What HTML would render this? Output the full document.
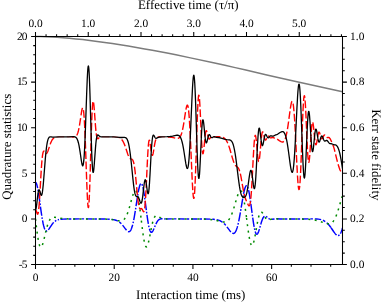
<!DOCTYPE html>
<html><head><meta charset="utf-8"><title>Kerr quadrature statistics</title><style>
html,body{margin:0;padding:0;background:#fff}
body{width:382px;height:303px;overflow:hidden;font-family:"Liberation Serif",serif}
svg{display:block;will-change:transform;filter:blur(0.3px);text-rendering:geometricPrecision}
</style></head><body>
<svg width="382" height="303" viewBox="0 0 382 303">
<defs><clipPath id="cp"><rect x="35.5" y="30" width="307" height="240"/></clipPath></defs>
<rect width="382" height="303" fill="#fff"/>
<g clip-path="url(#cp)" fill="none" stroke-linejoin="round" stroke-linecap="butt">
<path d="M35.50,36.50L40.62,36.55L45.84,36.69L51.31,36.92L56.99,37.26L63.03,37.70L69.33,38.24L75.88,38.88L82.73,39.62L89.85,40.46L97.17,41.40L104.69,42.43L112.37,43.54L120.19,44.75L128.23,46.04L136.47,47.44L144.71,48.89L152.33,50.29L160.42,51.81L168.35,53.35L175.92,54.86L190.46,57.87L213.44,62.80L224.95,65.32L235.19,67.63L244.76,69.85L266.86,75.05L280.12,78.08L294.70,81.29L324.28,87.67L342.50,91.75" stroke="#7c7c7c" stroke-width="1.5"/>
<path d="M35.50,182.42L35.76,182.50L36.01,182.76L36.27,183.18L36.52,183.76L36.78,184.49L37.09,185.58L37.64,188.05M37.94,189.62L38.22,191.20M38.47,192.78L39.08,196.83L39.79,201.88M40.00,203.47L40.22,205.05M40.44,206.64L41.13,211.60L41.74,215.74M41.99,217.32L42.26,218.90M42.53,220.48L43.13,223.49L43.69,225.90L44.25,227.82L44.56,228.67L44.85,229.36M45.73,230.69L46.09,230.96L46.45,231.07L46.81,231.06L47.19,230.92M48.37,229.85L49.21,228.68L51.06,225.81L51.93,224.54L52.85,223.34L53.71,222.38M54.92,221.33L55.56,220.89L56.28,220.49M57.76,219.89L58.99,219.57M60.43,219.34L61.60,219.22L62.98,219.13L66.82,219.01M68.72,218.97L71.32,218.94M73.22,218.92L79.62,218.89M81.52,218.89L84.12,218.89M86.02,218.89L92.42,218.91M94.32,218.93L96.92,218.95M98.82,218.96L105.22,219.06M107.11,219.11L109.71,219.23M111.60,219.38L113.44,219.64L115.03,219.98L115.74,220.19L116.46,220.44L117.12,220.72L117.75,221.03M119.36,222.04L120.35,222.84L121.30,223.75M122.57,225.17L123.52,226.37L125.57,229.08L126.51,230.21M127.95,231.44L127.97,231.45M128.02,231.48L128.38,231.62L128.69,231.68L129.00,231.67L129.30,231.60L129.61,231.44L129.92,231.21L130.23,230.89L130.48,230.56L130.79,230.07L131.04,229.58L131.61,228.26L132.17,226.57L132.69,224.70M133.06,223.15L133.40,221.58M133.72,220.02L134.47,215.94L135.29,210.95M135.54,209.37L135.78,207.79M136.02,206.21L137.41,197.11M137.67,195.53L137.93,193.96M138.21,192.38L138.93,188.73L139.54,186.25L139.85,185.27L140.15,184.49L140.41,183.99L140.71,183.60M141.90,184.16L142.20,184.84L142.48,185.65M142.89,187.20L143.27,188.96L143.63,190.86L144.04,193.32L144.49,196.26M144.71,197.84L144.93,199.43M145.14,201.01L146.33,210.14M146.53,211.72L146.74,213.31M146.96,214.89L147.68,219.88L148.35,223.99M148.65,225.56L148.98,227.12M149.37,228.68L149.88,230.32L150.13,230.96L150.39,231.47L150.64,231.86L150.90,232.14L151.16,232.30L151.46,232.36L151.72,232.29L152.03,232.09L152.28,231.83L152.59,231.43L152.90,230.93L153.25,230.25L154.03,228.52M154.64,227.04L155.25,225.56M155.89,224.10L156.63,222.59L157.35,221.38L157.71,220.88L158.06,220.44L158.42,220.07L158.78,219.75L159.14,219.50L159.55,219.26L159.96,219.09L160.37,218.97L161.29,218.82L162.51,218.81M164.11,218.87L164.97,218.91M165.53,218.92L171.93,218.90M173.83,218.90L176.43,218.89M178.33,218.89L184.73,218.90M186.63,218.91L189.23,218.92M191.13,218.93L197.53,218.97M199.43,218.98L202.03,218.99M203.93,219.01L210.33,219.11M212.23,219.20L213.59,219.30L214.82,219.42M216.69,219.72L217.53,219.91L218.35,220.14L219.12,220.40L219.83,220.69L220.55,221.03L221.21,221.39L221.88,221.80L222.51,222.25M223.97,223.47L224.85,224.35L225.75,225.36M226.94,226.84L229.61,230.42L230.27,231.26L230.84,231.91M232.29,233.13L232.63,233.29L232.99,233.40M233.04,233.41L233.34,233.44L233.65,233.41L233.96,233.31L234.26,233.15L234.57,232.91L234.83,232.66L235.13,232.28L235.39,231.91L235.95,230.87L236.52,229.54L237.08,227.89L237.60,226.11M237.99,224.56L238.36,223.00M238.70,221.44L239.48,217.49L240.39,212.39M240.66,210.82L240.92,209.24M241.19,207.66L242.70,198.59M242.98,197.01L243.28,195.44M243.58,193.87L244.04,191.70L244.45,189.99L244.86,188.53L245.27,187.33L245.68,186.44L246.03,185.93L246.24,185.75L246.39,185.67L246.60,185.65L246.77,185.69M247.67,186.98L247.93,187.68L248.18,188.50M248.58,190.05L248.95,191.75L249.36,193.92L250.19,199.10M250.42,200.68L250.64,202.27M250.86,203.85L252.07,212.97M252.28,214.56L252.50,216.15M252.71,217.73L253.46,222.79L254.14,226.82M254.45,228.39L254.79,229.95M255.21,231.50L255.45,232.26L255.71,232.92L255.91,233.35L256.17,233.76L256.37,234.00L256.63,234.17L256.88,234.21L257.14,234.13L257.40,233.93L257.65,233.62L257.91,233.20L258.16,232.69L258.73,231.27L259.41,229.13M259.86,227.59L260.29,226.05M260.72,224.51L261.28,222.58L261.80,220.98L262.26,219.70L262.72,218.60L263.18,217.70L263.59,217.08L264.05,216.58L264.48,216.29M266.01,216.42L266.56,216.76L267.31,217.36M268.55,218.36L269.27,218.81L269.98,219.13M270.04,219.15L270.09,219.17M271.97,219.34L274.53,218.94M276.43,218.80L280.32,218.91L282.83,218.92M284.73,218.91L287.33,218.93M289.23,218.93L295.63,218.95M297.53,218.95L300.13,218.95M302.03,218.94L308.43,218.89M310.33,218.87L312.93,218.87M314.83,218.90L316.76,218.98L318.40,219.13L319.83,219.35L321.17,219.66M322.96,220.27L324.13,220.83L325.24,221.51M326.74,222.68L327.71,223.60L328.73,224.71L329.76,225.97L330.90,227.52M331.04,227.72L333.60,231.49L334.62,232.91L335.18,233.62L335.69,234.20L336.15,234.65L336.59,235.01M338.06,235.57L338.41,235.52L338.76,235.40L339.12,235.18L339.47,234.89M340.41,233.60L340.96,232.49L341.48,231.23L341.99,229.74L342.50,228.02" stroke="#0000ff" stroke-width="1.45"/>
<path d="M35.50,218.90L35.73,220.89M36.24,225.26L36.48,227.24M37.02,231.61L37.29,233.59M37.93,237.94L38.26,239.92M39.18,244.22L39.49,245.26L39.82,246.11M42.38,245.03L43.00,243.13M44.11,238.87L44.57,236.93M45.56,232.64L46.03,230.70M47.06,226.74L47.63,224.82M49.23,220.73L49.73,219.83L50.27,219.02M54.05,217.19L54.90,217.28L56.02,217.50M60.34,218.36L62.32,218.59M66.71,218.84L68.71,218.88M73.11,218.92L75.11,218.92M79.51,218.91L81.51,218.91M85.91,218.89L87.91,218.89M92.31,218.88L94.31,218.88M98.71,218.91L100.71,218.93M105.11,219.05L107.11,219.15M111.49,219.55L113.47,219.84M117.79,220.66L118.86,220.83L119.77,220.91M123.84,219.59L124.49,218.93L125.15,218.08M127.17,214.18L127.87,212.31M129.21,208.12L129.76,206.19M130.91,201.95L131.43,200.02M132.64,195.78L133.27,193.89M135.76,190.77L136.06,191.04L136.32,191.39L136.57,191.87L136.81,192.44M137.97,196.68L138.35,198.64M139.07,202.98L139.36,204.96M139.95,209.32L140.21,211.31M140.75,215.67L140.98,217.56M141.35,220.69L141.59,222.68M142.12,227.05L142.37,229.03M142.94,233.39L143.22,235.37M143.91,239.72L144.29,241.68M145.47,245.92L145.78,246.49L145.94,246.68L146.14,246.84L146.29,246.90L146.50,246.89L146.70,246.79L146.87,246.63M148.41,242.53L148.87,240.59M149.76,236.28L150.13,234.31M150.96,229.99L151.35,228.03M152.29,223.73L152.78,221.79M154.25,217.65L154.53,217.14L154.84,216.68L155.15,216.32L155.43,216.06M159.38,217.10L160.32,217.67L161.13,218.07M165.43,218.87L167.43,218.90M171.83,218.92L173.83,218.91M178.23,218.90L180.23,218.89M184.63,218.88L186.63,218.88M191.03,218.89L193.03,218.90M197.43,218.94L199.43,218.97M203.83,219.08L205.82,219.16M210.21,219.48L212.20,219.72M216.53,220.50L218.47,220.97M222.76,221.96L223.82,222.06L224.75,222.03M228.53,219.99L229.15,219.22L229.72,218.39M231.66,214.45L232.38,212.58M233.76,208.40L234.34,206.49M235.55,202.26L236.10,200.34M237.38,196.13L238.05,194.24M240.42,190.72L240.61,190.73L240.76,190.78L241.12,191.03L241.48,191.48L241.79,192.04M243.13,196.22L243.56,198.17M244.35,202.50L244.67,204.48M245.32,208.83L245.59,210.81M246.18,215.17L246.43,217.15M246.54,218.01L246.79,219.87M247.35,224.24L247.61,226.22M248.21,230.58L248.49,232.56M249.18,236.90L249.53,238.87M250.53,243.16L250.90,244.22L251.28,245.00M253.60,242.62L254.10,240.68M254.98,236.37L255.34,234.40M256.09,230.07L256.43,228.10M257.20,223.76L257.57,221.80M258.50,217.50L259.03,215.57M261.31,212.09L261.64,212.19L262.00,212.43L262.36,212.80L262.78,213.35M264.99,217.16L265.58,218.09L266.13,218.80M270.08,219.66L271.26,219.21L271.96,218.99M276.33,218.82L278.32,218.92M282.72,218.88L284.72,218.88M289.12,218.90L291.12,218.91M295.52,218.96L297.52,218.98M301.92,219.08L303.92,219.14M308.32,219.37L310.31,219.53M314.67,220.10L316.63,220.49M320.87,221.69L322.75,222.35M326.94,223.69L327.97,223.84L328.93,223.87M332.74,221.91L333.34,221.18L333.94,220.32M335.93,216.40L336.66,214.54M338.08,210.37L338.67,208.46M339.91,204.24L340.46,202.32M341.72,198.10L342.35,196.20" stroke="#008a00" stroke-width="1.5"/>
<path d="M35.76,209.92L35.96,210.23L36.22,210.81L37.14,213.56L37.34,213.98L37.50,214.16L37.65,214.21L37.75,214.15L37.85,214.02L37.96,213.81L38.21,212.92L38.42,211.76M38.75,209.18L39.08,205.54L39.38,201.51M39.56,198.91L40.00,191.52M40.17,188.63L40.60,180.94M40.75,178.35L41.21,170.66M41.38,168.07L41.69,163.67L41.97,160.39M42.22,157.80L42.46,155.79L42.66,154.39L42.92,153.03L43.18,152.07L43.43,151.48L43.59,151.27L43.74,151.16L43.89,151.13L44.05,151.18L44.20,151.28L44.39,151.48M46.05,153.44L46.25,153.47L46.40,153.45L46.71,153.27L47.07,152.85L47.42,152.22L47.78,151.42L48.19,150.34L49.34,146.85M50.16,144.38L50.65,143.06L51.11,141.96L51.57,140.99L52.03,140.17L52.49,139.48L53.00,138.86L53.51,138.36L54.11,137.93M72.09,136.97L73.32,137.01L74.19,136.96M76.61,135.47L76.95,134.92L77.26,134.31L77.57,133.58L77.87,132.71L78.44,130.72L78.99,128.20M79.46,125.64L79.97,122.47L80.62,118.03M80.99,115.45L81.46,112.41L81.86,110.14L82.22,108.68L82.38,108.26L82.55,107.95M83.44,110.07L83.60,111.30L83.81,113.21L84.17,117.74M84.34,120.33L84.75,128.02M84.87,130.62L85.19,138.31M85.29,140.91L85.58,148.60M85.67,151.20L85.94,158.90M86.02,161.50L86.28,169.19M86.37,171.79L86.64,179.49M86.74,182.08L87.04,189.78M87.15,192.38L87.52,200.07M87.69,202.66L87.95,205.79L88.11,206.92L88.26,207.54L88.36,207.65L88.42,207.62L88.57,207.16L88.72,206.15L88.83,205.10M89.03,202.51L89.23,198.93L89.42,194.82M89.53,192.22L89.81,184.53M89.89,181.93L90.13,174.23M90.21,171.63L90.43,163.94M90.50,161.34L90.72,153.64M90.79,151.04L91.01,143.34M91.08,140.75L91.31,133.05M91.40,130.45L91.66,122.75M91.75,120.16L92.08,112.46M92.21,109.87L92.51,105.23L92.66,103.55L92.84,102.19M93.60,102.61L93.94,105.54L94.34,110.27M94.53,112.86L95.08,120.55M95.27,123.14L95.63,127.64L95.93,130.81M96.22,133.39L96.50,135.30L96.81,136.86M96.86,137.06L97.06,137.75L97.27,138.22L97.52,138.57L97.63,138.65L97.78,138.71L98.04,138.68L98.29,138.54L99.37,137.56M119.02,137.64L119.66,137.92M121.68,139.53L122.14,140.10L122.55,140.69L123.01,141.45L123.42,142.21L123.83,143.06L124.29,144.12L125.15,146.36M125.99,148.82L127.56,153.57L128.08,154.96L128.54,156.08M129.90,158.28L130.33,158.64L130.84,158.90M130.94,158.93L131.66,159.15L132.07,159.35L132.43,159.66L132.78,160.16L133.09,160.79L133.40,161.64L133.71,162.75L134.01,164.12M134.45,166.68L134.93,170.19L135.41,174.32M135.67,176.91L136.40,184.58M136.63,187.16L137.36,194.83M137.63,197.42L138.16,201.86L138.41,203.62L138.66,205.05M139.29,207.56L139.49,208.02L139.64,208.29L139.80,208.48L140.00,208.64L140.15,208.69L140.36,208.71L141.02,208.57L141.28,208.56L141.54,208.64L141.79,208.83L142.00,209.06L142.25,209.44L143.17,211.22L143.38,211.51L143.53,211.65L143.63,211.69L143.74,211.68L143.89,211.57L144.04,211.33L144.20,210.89M144.69,208.34L145.07,204.94L145.41,200.67M145.58,198.08L146.02,190.39M146.15,187.80L146.35,183.76M146.40,182.68L146.52,180.11M146.64,177.51L146.99,169.82M147.11,167.22L147.48,159.53M147.61,156.93L148.07,149.24M148.26,146.65L148.44,144.55L148.65,142.71L148.80,141.67L149.01,140.73L149.16,140.36L149.26,140.27L149.36,140.29L149.47,140.42L149.57,140.65L149.75,141.28M150.19,143.84L151.21,151.47M151.67,154.03L151.92,154.89L152.13,155.28L152.23,155.36L152.38,155.36L152.49,155.27L152.64,155.02L152.90,154.29L153.15,153.23L153.46,151.64L153.81,149.51M154.22,146.95L154.69,144.23L155.10,142.17L155.51,140.54L155.88,139.44M157.42,137.41L157.96,137.17L158.68,136.96L159.34,136.83L160.06,136.78M168.04,136.97L169.99,137.12L171.68,137.33L173.26,137.62L175.22,138.06M177.79,138.38L178.43,138.24L179.00,137.97L179.51,137.56L180.02,136.96M180.22,136.66L180.68,135.83L181.09,134.90L181.50,133.76L181.91,132.39M182.54,129.87L183.19,126.62L183.93,122.30M184.33,119.73L185.49,112.12M185.93,109.55L186.31,107.63L186.62,106.42L186.93,105.57L187.08,105.31L187.18,105.19L187.34,105.13L187.49,105.20L187.64,105.41L187.75,105.63L188.00,106.49L188.26,107.85M188.61,110.42L188.92,113.60L189.28,118.10M189.45,120.69L189.90,128.38M190.03,130.97L190.40,138.66M190.52,141.26L190.86,148.95M190.97,151.55L191.29,159.24M191.40,161.84L191.73,169.54M191.84,172.13L192.19,179.82M192.32,182.42L192.76,190.11M192.95,192.70L193.27,196.20L193.48,197.59L193.63,198.19L193.73,198.37L193.78,198.40L193.89,198.32L193.94,198.21L194.09,197.60L194.24,196.60M194.50,194.02L194.71,191.05L194.97,186.33M195.09,183.73L195.41,176.04M195.51,173.44L195.77,165.75M195.86,163.15L196.11,155.45M196.19,152.85L196.42,145.16M196.50,142.56L196.74,134.86M196.82,132.26L197.07,124.57M197.16,121.97L197.44,114.27M197.55,111.68L197.91,103.99M198.06,101.39L198.34,97.78L198.49,96.44L198.65,95.59L198.75,95.29L198.80,95.21L198.85,95.19L198.90,95.23L199.06,95.64L199.21,96.53M199.48,99.11L199.72,102.36L199.98,106.79M200.11,109.39L200.48,117.08M200.59,119.68L200.93,127.37M201.05,129.97L201.41,137.66M201.55,140.26L201.77,144.15L202.03,147.94M202.26,150.53L202.43,152.01L202.64,153.17L202.79,153.64L202.89,153.77L203.00,153.76L203.15,153.49L203.35,152.69L203.56,151.45L203.79,149.60M204.06,147.02L204.78,139.35M205.09,136.35L205.35,134.29L205.56,132.95L205.81,131.71L206.02,131.08L206.12,130.89L206.22,130.77L206.32,130.73L206.48,130.80L206.58,130.93L206.73,131.24L206.98,131.96M207.59,134.48L208.11,136.74M208.22,137.12L208.52,138.07L208.78,138.62L209.04,138.93L209.14,138.99L209.29,139.02L209.39,139.00L209.55,138.91L209.85,138.57L210.78,136.99M212.95,136.50L213.33,136.76M214.05,137.05L214.51,137.06M215.53,136.79L216.10,136.66L216.66,136.61L218.40,136.77L220.44,136.81M222.96,137.42L223.62,137.74L224.23,138.13L224.80,138.60L225.36,139.17M225.92,139.87L226.38,140.55L226.84,141.33L227.30,142.21L227.76,143.19M228.71,145.61L229.76,148.79L230.98,152.97M231.68,155.47L232.42,158.05L232.99,159.87L233.55,161.53L234.04,162.79M235.23,165.10L235.60,165.58L235.95,165.97L236.36,166.34L236.93,166.77M237.03,166.84L237.49,167.20L237.85,167.54L238.20,167.96L238.51,168.42L238.82,168.98L239.13,169.66L239.66,171.18M240.33,173.69L241.02,176.98L241.79,181.25M242.22,183.82L242.96,188.19L243.56,191.40M244.09,193.95L244.45,195.43L244.86,196.91M244.96,197.25L245.63,199.15L246.52,201.23M247.60,203.60L248.18,204.82L248.59,205.48L248.80,205.70L248.95,205.79L249.16,205.82L249.31,205.74L249.46,205.56L249.62,205.29L249.77,204.89L249.92,204.37L250.23,202.91L250.49,201.23M250.79,198.65L251.10,195.28L251.43,190.98M251.60,188.38L252.06,180.70M252.21,178.10L252.61,170.41M252.74,167.82L253.13,160.13M253.27,157.53L253.70,149.84M253.86,147.25L254.17,142.80L254.46,139.57M254.77,136.99L254.94,136.12L255.14,135.51L255.20,135.43L255.30,135.37L255.40,135.44L255.50,135.62L255.71,136.34L255.91,137.49L256.12,139.03L256.35,141.16M256.59,143.75L257.19,150.74M257.24,151.34L257.25,151.42M257.48,154.01L257.86,157.61L258.16,159.80L258.32,160.57L258.47,161.10L258.62,161.40L258.73,161.45L258.80,161.42M259.43,158.92L259.80,155.74L260.21,151.26M260.43,148.67L261.08,141.00M261.33,138.41L261.59,136.05L261.80,134.57L262.00,133.40L262.21,132.56L262.41,132.05L262.51,131.92L262.67,131.86L262.77,131.91L262.87,132.03L263.13,132.58M263.78,135.10L264.36,137.67M264.41,137.87L264.66,138.79L264.92,139.48L265.17,139.93L265.28,140.04L265.43,140.13L265.53,140.14L265.69,140.09L265.84,139.95L265.99,139.75L266.30,139.19L266.68,138.32M267.99,136.12L268.24,136.05L268.55,136.14L268.86,136.36L269.22,136.73M269.47,137.03L269.83,137.41L270.09,137.63L270.34,137.79L270.60,137.88L270.85,137.91L271.11,137.88L272.24,137.50L272.54,137.44L272.85,137.44L273.16,137.49L273.52,137.62L274.73,138.27M277.15,139.19L277.87,139.60L279.30,140.61L280.12,141.13L280.99,141.61L281.70,141.91L282.32,142.05L282.63,142.05L282.88,142.01L283.14,141.92L283.39,141.78L283.87,141.38M285.14,139.13L285.49,138.14L285.85,136.95M285.95,136.58L286.46,134.46L287.02,131.67M287.47,129.11L288.00,125.67L288.59,121.49M288.93,118.92L289.95,111.28M290.31,108.71L290.81,105.60L291.27,103.33L291.48,102.55L291.68,101.95L291.89,101.53L291.99,101.40L292.12,101.30M293.07,103.56L293.32,105.11L293.53,106.69L293.98,111.21M294.19,113.80L294.71,121.48M294.87,124.08L295.29,131.76M295.43,134.36L295.81,142.05M295.93,144.65L296.30,152.34M296.42,154.94L296.79,162.63M296.92,165.23L297.33,172.91M297.48,175.51L297.77,180.12L298.01,183.19M298.24,185.78L298.44,187.44L298.64,188.68L298.85,189.38L298.95,189.53L299.00,189.55L299.10,189.48L299.21,189.26L299.36,188.66L299.56,187.35L299.73,185.87M299.95,183.28L300.18,179.94L300.42,175.59M300.56,172.99L300.90,165.30M301.01,162.70L301.31,155.01M301.40,152.41L301.68,144.72M301.78,142.12L301.97,136.77M302.02,135.34L302.05,134.42M302.15,131.82L302.44,124.13M302.54,121.53L302.86,113.84M302.98,111.24L303.39,103.55M303.57,100.96L303.76,98.67L303.91,97.32L304.07,96.36L304.22,95.81L304.27,95.72L304.32,95.67L304.37,95.67L304.43,95.72L304.53,95.95L304.68,96.63L304.85,97.87M305.10,100.46L305.35,103.95L305.59,108.15M305.72,110.74L306.08,118.43M306.19,121.03L306.52,128.72M306.63,131.32L306.96,139.01M307.07,141.61L307.45,149.30M307.59,151.90L307.91,156.68L308.16,159.58M308.60,162.13L308.72,162.31L308.78,162.32L308.88,162.20L309.03,161.73L309.18,160.92L309.49,158.34L309.78,155.00M309.96,152.41L310.45,144.72M310.60,142.13L310.92,136.84M310.98,136.03L311.08,134.44M311.26,131.85L311.64,127.08L311.97,124.18M312.79,122.43L313.02,123.32L313.28,124.88L313.53,126.95L313.86,130.05M314.10,132.63L314.51,136.81M314.56,137.31L314.89,140.29M315.26,142.87L315.48,143.87L315.63,144.36L315.74,144.58L315.84,144.71L315.94,144.76L316.04,144.72L316.20,144.51L316.40,143.98L316.66,142.95L316.91,141.60L317.27,139.37M317.68,136.79L317.99,135.03L318.29,133.61L318.60,132.63L318.75,132.32L318.86,132.19L318.96,132.11L319.11,132.10L319.27,132.21L319.42,132.43L319.73,133.14L320.13,134.47M320.82,136.98L320.90,137.25M321.01,137.55L321.26,138.19L321.47,138.55L321.67,138.78L321.88,138.86L322.08,138.81L322.34,138.57L322.59,138.17L322.85,137.65M322.95,137.43L323.67,135.89L323.92,135.47L324.13,135.22L324.33,135.07L324.59,135.00L324.84,135.07L325.08,135.23M326.70,137.26L327.05,137.48L327.40,137.58L327.71,137.57L328.43,137.46L328.79,137.48L329.14,137.62L329.45,137.85L329.86,138.34L330.32,139.09L330.88,140.22L331.70,142.01M332.83,144.67L333.34,146.05L333.85,147.64L334.36,149.43L334.96,151.76M335.58,154.29L336.61,158.56L337.43,161.76M338.11,164.27L338.87,166.83L339.58,168.88L339.94,169.74L340.25,170.39L340.56,170.94L340.87,171.42" stroke="#ff0000" stroke-width="1.4"/>
<path d="M35.50,209.78L35.60,209.80L35.76,209.92M40.00,191.52L40.02,191.23M56.55,137.08L57.66,136.95L59.09,136.87L64.23,136.78M66.83,136.78L69.43,136.83L72.09,136.97M74.19,136.96L74.52,136.91M96.81,136.86L96.86,137.06M101.79,136.79L109.49,136.86M112.09,136.89L114.72,136.95L116.46,137.08L117.84,137.30L118.45,137.45L119.02,137.64M130.84,158.90L130.94,158.93M146.35,183.76L146.40,182.68M160.06,136.78L165.02,136.85M167.61,136.95L168.04,136.97M180.02,136.96L180.22,136.66M205.05,136.76L205.09,136.35M208.11,136.74L208.22,137.12M210.78,136.99L210.84,136.88M213.33,136.76L213.69,136.95L214.05,137.05M214.51,137.06L214.87,136.99L215.53,136.79M225.36,139.17L225.92,139.87M236.93,166.77L237.03,166.84M244.86,196.91L244.96,197.25M257.19,150.74L257.24,151.34M264.36,137.67L264.41,137.87M269.22,136.73L269.47,137.03M285.85,136.95L285.95,136.58M301.97,136.77L302.02,135.34M310.92,136.84L310.98,136.03M314.51,136.81L314.56,137.31M317.68,136.80L317.68,136.79M320.90,137.25L321.01,137.55M322.85,137.65L322.95,137.43M332.72,144.40L332.83,144.67" stroke="#ff0000" stroke-width="0.7"/>
<path d="M35.50,209.78L35.60,209.74L35.70,209.60L35.91,209.08L36.11,208.23L36.32,207.09L36.73,204.10L37.55,196.98L37.91,194.18L38.31,191.71L38.52,190.84L38.67,190.37L38.83,190.05L38.93,189.91L39.03,189.85L39.13,189.84L39.24,189.90L39.44,190.17L39.65,190.62L39.85,191.22L40.52,193.57L40.77,194.37L41.03,194.96L41.23,195.24L41.39,195.30L41.49,195.28L41.64,195.11L41.74,194.93L42.00,194.16L42.20,193.24L42.46,191.70L42.72,189.76L43.23,184.81L43.74,178.80L45.33,158.67L45.89,152.63L46.40,148.06L46.71,145.76L47.01,143.80L47.32,142.15L47.68,140.59L48.04,139.38L48.40,138.48L48.75,137.83L49.16,137.34L49.42,137.13L49.73,136.97L50.08,136.87L50.44,136.84L51.01,136.86L52.69,137.06L53.87,137.09L59.19,136.88L68.46,136.83L73.32,136.63L74.14,136.67L74.80,136.80L75.37,137.02L75.88,137.36L76.24,137.70L76.59,138.15L76.90,138.63L77.21,139.22L77.51,139.93L77.82,140.78L78.38,142.72L78.95,145.22L79.56,148.59L80.12,152.19L81.30,160.27L81.86,163.50L82.17,164.79L82.33,165.26L82.48,165.59L82.63,165.76L82.79,165.77L82.94,165.59L83.04,165.36L83.25,164.62L83.45,163.48L83.81,160.43L84.17,155.96L84.53,150.02L84.88,142.67L85.29,132.72L86.68,93.27L87.24,79.18L87.55,73.21L87.80,69.48L87.95,67.85L88.11,66.72L88.26,66.10L88.36,65.99L88.47,66.11L88.52,66.27L88.62,66.76L88.72,67.49L88.88,69.04L89.13,72.81L89.39,77.97L89.64,84.38L89.95,93.45L91.23,137.82L91.79,154.58L92.10,161.67L92.41,167.03L92.56,169.02L92.71,170.55L92.87,171.62L93.02,172.25L93.12,172.43L93.17,172.45L93.23,172.43L93.33,172.25L93.43,171.91L93.64,170.78L93.89,168.62L94.35,163.22L95.48,147.83L95.84,143.77L96.14,140.90L96.45,138.65L96.76,137.00L96.91,136.38L97.11,135.76L97.27,135.42L97.47,135.12L97.63,134.99L97.78,134.93L97.93,134.93L98.09,134.98L98.39,135.18L99.32,136.03L99.83,136.41L100.13,136.57L100.44,136.68L101.16,136.82L102.44,136.86L110.16,136.82L113.64,136.89L116.10,137.04L119.63,137.39L120.81,137.48L121.99,137.51L123.88,137.43L124.54,137.44L125.26,137.57L125.57,137.68L125.88,137.85L126.39,138.27L126.64,138.56L126.90,138.93L127.36,139.78L127.82,140.94L128.23,142.27L128.64,143.90L129.05,145.88L129.46,148.22L130.12,152.80L130.84,158.74L131.45,164.48L132.89,178.66L133.55,184.62L133.91,187.43L134.22,189.56L134.58,191.68L134.88,193.16L135.14,194.16L135.45,195.10L135.70,195.67L136.01,196.13L136.26,196.35L136.52,196.47L136.78,196.52L137.39,196.54L137.75,196.65L138.11,196.91L138.46,197.38L138.77,197.97L139.08,198.71L140.00,201.42L140.36,202.36L140.67,202.94L140.82,203.13L140.97,203.22L141.13,203.22L141.28,203.12L141.43,202.90L141.59,202.57L141.89,201.53L142.20,200.00L142.46,198.37L142.76,196.06L143.79,187.01L144.20,183.75L144.45,182.10L144.66,181.07L144.86,180.32L145.07,179.88L145.17,179.78L145.27,179.76L145.37,179.83L145.48,179.97L145.68,180.50L145.94,181.57L146.35,184.05L147.27,190.76L147.52,192.24L147.73,193.11L147.88,193.54L147.98,193.71L148.09,193.77L148.19,193.73L148.29,193.58L148.39,193.31L148.60,192.42L148.80,191.05L149.06,188.67L149.52,182.69L149.98,175.02L151.10,154.25L151.46,148.53L151.77,144.36L152.13,140.50L152.49,137.75L152.64,136.90L152.84,136.05L153.05,135.50L153.25,135.20L153.36,135.14L153.51,135.13L153.66,135.22L153.82,135.38L154.12,135.86L154.89,137.28L155.15,137.66L155.35,137.90L155.71,138.18L155.92,138.26L156.12,138.29L156.38,138.27L156.68,138.17L157.81,137.64L158.47,137.40L159.24,137.22L160.47,137.01L161.95,136.86L167.07,136.72L168.71,136.62L170.19,136.49L171.42,136.34L172.60,136.15L175.92,135.42L176.95,135.26L177.72,135.26L178.38,135.38L178.94,135.64L179.25,135.85L179.51,136.08L179.87,136.47L180.22,136.98L180.58,137.60L180.89,138.25L181.20,139.01L181.50,139.88L182.12,142.01L182.78,144.92L183.45,148.45L184.11,152.51L185.55,161.85L185.90,163.95L186.26,165.77L186.67,167.39L186.88,167.95L187.03,168.26L187.23,168.48L187.39,168.50L187.49,168.44L187.59,168.32L187.75,168.01L188.00,167.15L188.21,166.13L188.41,164.80L188.62,163.14L189.03,158.84L189.43,153.20L189.84,146.27L190.30,137.12L191.89,100.33L192.51,87.78L192.86,82.04L193.17,78.37L193.32,77.03L193.48,76.05L193.63,75.45L193.73,75.27L193.78,75.24L193.89,75.32L193.94,75.43L194.09,76.04L194.25,77.06L194.40,78.49L194.71,82.59L195.01,88.25L195.32,95.32L195.68,105.07L197.01,147.13L197.57,162.54L197.88,169.12L198.19,174.06L198.34,175.86L198.49,177.20L198.65,178.05L198.70,178.23L198.80,178.43L198.85,178.45L198.90,178.41L199.00,178.19L199.11,177.76L199.26,176.75L199.52,174.13L199.77,170.47L200.28,160.76L201.36,137.01L201.67,131.21L201.92,127.15L202.18,123.93L202.43,121.63L202.54,120.98L202.69,120.28L202.79,120.00L202.84,119.92L202.95,119.86L203.00,119.88L203.10,120.03L203.30,120.71L203.51,121.85L203.71,123.38L204.07,126.73L204.94,135.88L205.40,139.72L205.61,140.99L205.81,141.94L206.02,142.57L206.12,142.76L206.22,142.88L206.37,142.91L206.53,142.79L206.68,142.53L206.89,141.99L207.24,140.67L208.06,137.12L208.47,135.73L208.68,135.24L208.83,134.97L209.04,134.74L209.24,134.65L209.34,134.66L209.50,134.72L209.75,134.97L210.06,135.43L210.72,136.61L211.03,137.09L211.39,137.48L211.70,137.67L211.95,137.71L212.21,137.66L212.52,137.53L213.28,137.03L213.64,136.85L214.00,136.75L214.41,136.75L214.82,136.84L215.79,137.20L216.35,137.34L216.86,137.41L218.14,137.48L219.01,137.63L222.03,138.47L224.34,139.19L225.51,139.48L226.84,139.69L228.94,139.83L229.66,139.93L230.07,140.04L230.43,140.19L230.78,140.40L231.09,140.64L231.40,140.94L231.71,141.32L232.01,141.79L232.27,142.25L232.63,143.02L232.99,143.95L233.34,145.06L233.70,146.36L234.37,149.30L235.08,153.26L235.65,156.91L236.26,161.38L238.20,177.09L238.87,182.19L239.48,186.39L240.10,189.93L240.46,191.66L240.76,192.93L241.07,194.02L241.43,195.05L241.79,195.86L242.15,196.46L242.50,196.89L242.91,197.20L243.17,197.32L243.42,197.38L243.68,197.41L243.99,197.39L244.29,197.32L244.55,197.21L245.01,196.89L245.42,196.41L245.78,195.81L246.14,194.99L246.50,193.90L246.80,192.72L247.06,191.57L247.62,188.47L248.13,185.07L249.26,176.82L249.77,173.59L250.03,172.30L250.28,171.31L250.54,170.65L250.74,170.38L250.90,170.35L251.00,170.41L251.10,170.53L251.25,170.83L251.51,171.65L251.82,173.13L252.28,176.17L253.35,184.65L253.61,186.31L253.81,187.38L254.07,188.28L254.17,188.49L254.27,188.61L254.38,188.62L254.43,188.59L254.53,188.44L254.73,187.82L254.99,186.40L255.25,184.25L255.50,181.39L255.81,177.08L256.32,168.20L257.50,145.04L257.81,139.79L258.06,136.02L258.37,132.39L258.62,130.19L258.88,128.78L259.03,128.31L259.19,128.11L259.24,128.10L259.34,128.17L259.44,128.35L259.55,128.64L259.75,129.49L259.95,130.67L260.31,133.32L261.13,140.24L261.59,143.36L261.80,144.36L262.00,145.07L262.15,145.42L262.26,145.55L262.36,145.61L262.51,145.56L262.67,145.36L262.82,145.01L262.97,144.54L263.38,142.76L264.20,138.33L264.61,136.42L264.87,135.51L265.07,134.96L265.28,134.59L265.48,134.40L265.63,134.36L265.79,134.40L265.94,134.52L266.10,134.71L266.40,135.22L267.17,136.79L267.58,137.43L267.89,137.71L268.04,137.78L268.24,137.80L268.50,137.71L268.76,137.52L269.83,136.32L270.14,136.05L270.39,135.89L270.70,135.79L271.06,135.79L271.37,135.86L272.13,136.13L272.54,136.22L272.90,136.21L273.31,136.11L273.72,135.92L275.05,135.22L276.59,134.70L277.25,134.40L277.87,134.04L279.30,133.03L280.07,132.54L280.99,132.03L281.70,131.73L282.06,131.63L282.42,131.59L282.73,131.61L283.03,131.68L283.34,131.83L283.60,132.01L283.85,132.24L284.11,132.55L284.47,133.09L284.77,133.67L285.08,134.37L285.39,135.19L285.70,136.15L286.00,137.25L286.62,139.90L287.23,143.14L287.90,147.28L288.56,151.97L290.05,163.07L290.45,165.86L290.81,168.04L291.22,170.09L291.43,170.91L291.63,171.56L291.84,172.02L291.99,172.25L292.09,172.33L292.19,172.35L292.35,172.29L292.50,172.08L292.60,171.87L292.86,171.06L293.12,169.83L293.32,168.54L293.58,166.51L293.78,164.57L294.24,159.16L294.70,152.36L295.21,143.38L296.95,107.73L297.62,95.83L297.98,90.78L298.34,87.01L298.54,85.52L298.69,84.73L298.85,84.26L298.95,84.11L299.00,84.10L299.10,84.17L299.21,84.38L299.36,84.98L299.51,85.91L299.67,87.17L299.97,90.68L300.33,96.33L300.69,103.50L301.05,111.93L302.43,149.37L302.99,162.77L303.30,168.65L303.61,173.23L303.91,176.33L304.07,177.29L304.22,177.84L304.32,177.98L304.37,177.98L304.48,177.84L304.58,177.52L304.73,176.70L304.99,174.48L305.24,171.25L305.55,166.20L305.86,160.10L307.04,132.84L307.60,121.62L307.91,116.98L308.16,114.11L308.31,112.87L308.47,111.99L308.57,111.61L308.62,111.48L308.72,111.35L308.83,111.39L308.93,111.59L309.13,112.45L309.34,113.89L309.54,115.87L310.00,121.90L310.98,137.67L311.44,144.25L311.69,147.16L311.95,149.38L312.20,150.86L312.41,151.47L312.46,151.55L312.56,151.61L312.66,151.54L312.77,151.36L312.97,150.66L313.18,149.55L313.59,146.34L314.56,136.48L315.02,132.53L315.27,130.90L315.53,129.78L315.74,129.28L315.84,129.15L315.89,129.12L315.99,129.12L316.14,129.28L316.35,129.76L316.50,130.30L316.71,131.23L317.01,132.95L317.83,138.15L318.24,140.26L318.45,141.05L318.60,141.50L318.75,141.82L318.91,142.02L319.06,142.10L319.22,142.05L319.37,141.90L319.52,141.64L319.88,140.72L320.70,137.93L321.06,136.90L321.26,136.45L321.47,136.14L321.67,135.98L321.88,135.96L321.98,136.00L322.13,136.13L322.44,136.59L322.75,137.25L323.51,139.26L323.82,139.98L324.18,140.61L324.33,140.80L324.54,140.99L324.79,141.10L325.05,141.10L325.36,140.98L326.02,140.57L326.33,140.42L326.64,140.37L326.94,140.44L327.25,140.64L327.61,141.01L328.63,142.45L328.99,142.90L329.35,143.25L329.66,143.46L329.91,143.57L330.22,143.65L331.24,143.74L331.75,143.84L332.21,144.00L333.29,144.50L333.80,144.66L334.26,144.74L335.23,144.84L335.74,144.97L336.15,145.18L336.51,145.46L336.87,145.83L337.23,146.32L337.59,146.90L337.95,147.60L338.30,148.41L338.61,149.21L339.22,151.12L339.84,153.49L340.40,156.09L341.02,159.37L341.68,163.36L342.50,168.68" stroke="#000000" stroke-width="1.3"/>
</g>
<g stroke="#000" stroke-width="1.05" fill="none" stroke-linecap="butt">
<path d="M35.5,36.5 H342.5 V264.5 H35.5 Z"/>
<path d="M35.5,264.50h-4.4M35.5,255.38h-2.3M35.5,246.26h-2.3M35.5,237.14h-2.3M35.5,228.02h-2.3M35.5,218.90h-4.4M35.5,209.78h-2.3M35.5,200.66h-2.3M35.5,191.54h-2.3M35.5,182.42h-2.3M35.5,173.30h-4.4M35.5,164.18h-2.3M35.5,155.06h-2.3M35.5,145.94h-2.3M35.5,136.82h-2.3M35.5,127.70h-4.4M35.5,118.58h-2.3M35.5,109.46h-2.3M35.5,100.34h-2.3M35.5,91.22h-2.3M35.5,82.10h-4.4M35.5,72.98h-2.3M35.5,63.86h-2.3M35.5,54.74h-2.3M35.5,45.62h-2.3M35.5,36.50h-4.4M342.5,264.50h4.4M342.5,253.10h2.3M342.5,241.70h2.3M342.5,230.30h2.3M342.5,218.90h4.4M342.5,207.50h2.3M342.5,196.10h2.3M342.5,184.70h2.3M342.5,173.30h4.4M342.5,161.90h2.3M342.5,150.50h2.3M342.5,139.10h2.3M342.5,127.70h4.4M342.5,116.30h2.3M342.5,104.90h2.3M342.5,93.50h2.3M342.5,82.10h4.4M342.5,70.70h2.3M342.5,59.30h2.3M342.5,47.90h2.3M342.5,36.50h4.4M35.50,264.5v4.4M55.18,264.5v2.3M74.86,264.5v2.3M94.54,264.5v2.3M114.22,264.5v4.4M133.90,264.5v2.3M153.58,264.5v2.3M173.26,264.5v2.3M192.94,264.5v4.4M212.62,264.5v2.3M232.29,264.5v2.3M251.97,264.5v2.3M271.65,264.5v4.4M291.33,264.5v2.3M311.01,264.5v2.3M330.69,264.5v2.3M35.50,36.5v-4.4M46.05,36.5v-2.3M56.60,36.5v-2.3M67.15,36.5v-2.3M77.70,36.5v-2.3M88.25,36.5v-4.4M98.80,36.5v-2.3M109.35,36.5v-2.3M119.90,36.5v-2.3M130.45,36.5v-2.3M141.00,36.5v-4.4M151.55,36.5v-2.3M162.10,36.5v-2.3M172.65,36.5v-2.3M183.20,36.5v-2.3M193.75,36.5v-4.4M204.30,36.5v-2.3M214.85,36.5v-2.3M225.40,36.5v-2.3M235.95,36.5v-2.3M246.50,36.5v-4.4M257.05,36.5v-2.3M267.60,36.5v-2.3M278.15,36.5v-2.3M288.70,36.5v-2.3M299.25,36.5v-4.4M309.80,36.5v-2.3M320.35,36.5v-2.3M330.90,36.5v-2.3M341.45,36.5v-2.3"/>
</g>
<g font-family="'Liberation Serif', serif" font-size="11.4px" fill="#000">
<text x="26.7" y="267.8" text-anchor="end" letter-spacing="-0.8">-5</text>
<text x="27.5" y="222.2" text-anchor="end" letter-spacing="0">0</text>
<text x="27.5" y="176.6" text-anchor="end" letter-spacing="0">5</text>
<text x="26.7" y="131.0" text-anchor="end" letter-spacing="-0.8">10</text>
<text x="26.7" y="85.4" text-anchor="end" letter-spacing="-0.8">15</text>
<text x="26.7" y="39.8" text-anchor="end" letter-spacing="-0.8">20</text>
<text x="350.1" y="267.8">0.0</text>
<text x="350.1" y="222.2">0.2</text>
<text x="350.1" y="176.6">0.4</text>
<text x="350.1" y="131.0">0.6</text>
<text x="350.1" y="85.4">0.8</text>
<text x="350.1" y="39.8">1.0</text>
<text x="35.5" y="281" text-anchor="middle">0</text>
<text x="114.2" y="281" text-anchor="middle">20</text>
<text x="192.9" y="281" text-anchor="middle">40</text>
<text x="271.7" y="281" text-anchor="middle">60</text>
<text x="35.5" y="26.6" text-anchor="middle">0.0</text>
<text x="88.2" y="26.6" text-anchor="middle">1.0</text>
<text x="141.0" y="26.6" text-anchor="middle">2.0</text>
<text x="193.8" y="26.6" text-anchor="middle">3.0</text>
<text x="246.5" y="26.6" text-anchor="middle">4.0</text>
<text x="299.2" y="26.6" text-anchor="middle">5.0</text>
</g>
<g font-family="'Liberation Serif', serif" font-size="12.95px" fill="#000">
<text x="136.1" y="298.6">Interaction time (ms)</text>
<text x="137.95" y="9.2">Effective time (τ/π)</text>
<text transform="translate(10.8,146.8) rotate(-90)" text-anchor="middle">Quadrature statistics</text>
<text transform="translate(371.8,154.85) rotate(90)" text-anchor="middle">Kerr state fidelity</text>
</g>
</svg>
</body></html>
